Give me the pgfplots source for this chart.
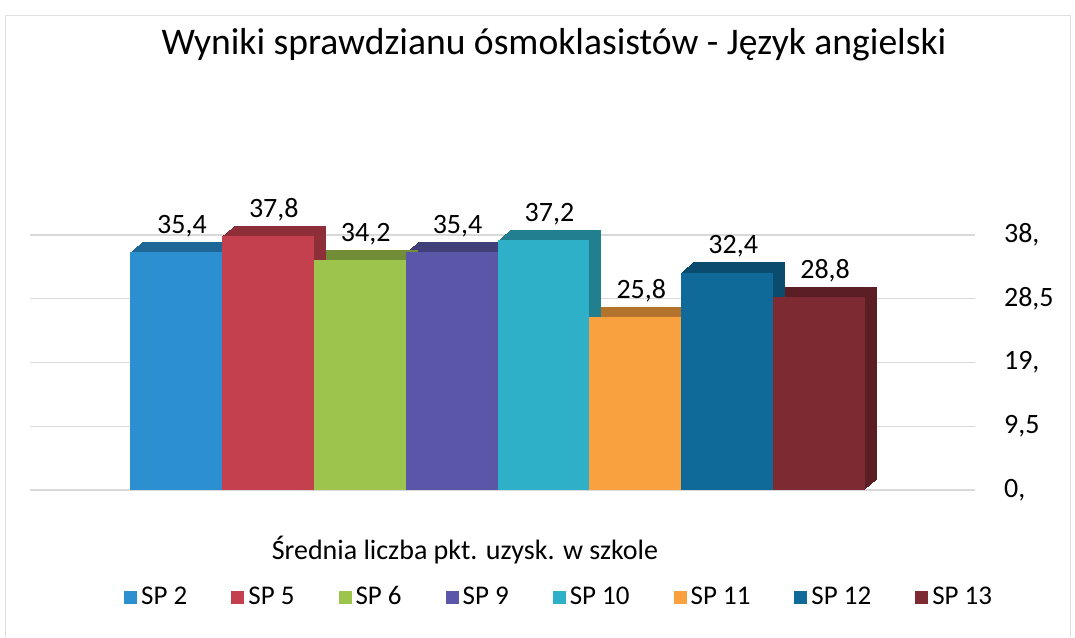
\documentclass[border=0pt]{standalone}
\usepackage{pgfplots}
\pgfplotsset{compat=1.18}
\usepackage{fontspec}
\setmainfont{Carlito}
\definecolor{cA}{HTML}{2B8FD0}
\definecolor{cB}{HTML}{C4404F}
\definecolor{cC}{HTML}{9DC44D}
\definecolor{cD}{HTML}{5A57A8}
\definecolor{cE}{HTML}{2EB0C8}
\definecolor{cF}{HTML}{F9A03F}
\definecolor{cG}{HTML}{0F6A99}
\definecolor{cH}{HTML}{7E2A33}
\newcommand\shadowbar[3]{\pgfplotsinvokeforeach{6,5.5,5,4.5,4,3.5,3,2.5,2,1.5,1,0.5}{\addplot[ybar, bar shift=0pt, bar width=1, fill=#2!72!black, draw=none, xshift=##1pt, yshift=##1*0.85pt, forget plot] coordinates {(#1,#3)};}}
\newcommand\frontbar[3]{\addplot[ybar, bar shift=0pt, bar width=1, fill=#2, draw=none, nodes near coords] coordinates {(#1,#3)};}
\begin{document}
\begin{tikzpicture}
\useasboundingbox (0,0) rectangle (537.5pt,318.5pt);
\draw[gray!25, line width=0.4pt] (2.5pt,0pt) -- (2.5pt,311pt) -- (535pt,311pt) -- (535pt,0pt);
\node[font=\fontsize{18.8}{22}\selectfont] at (277pt,296pt) {Wyniki sprawdzianu ósmoklasistów - Język angielski};
\begin{axis}[
  at={(15pt,73.5pt)}, anchor=south west,
  width=472.5pt, height=127.5pt, scale only axis,
  xmin=-0.588, xmax=9.697, ymin=0, ymax=38,
  axis line style={draw=none},
  major tick length=0pt,
  xtick=\empty,
  ytick={0,9.5,19,28.5,38},
  yticklabels={{0,},{9,5},{19,},{28,5},{38,}},
  yticklabel pos=right,
  yticklabel style={anchor=west, xshift=11pt, font=\fontsize{14}{16}\selectfont},
  ymajorgrids, grid style={gray!30, line width=0.6pt},
  clip=false,
  /pgf/number format/.cd, use comma, fixed, fixed zerofill, precision=1, assume math mode=true,
  /pgfplots/.cd,
  every node near coord/.append style={font=\fontsize{14}{16}\selectfont, xshift=3pt, yshift=4pt, black},
  legend columns=8,
  legend style={at={(rel axis cs:0.561,-0.42)}, anchor=center, draw=none, fill=none,
    font=\fontsize{13.5}{15}\selectfont,
    /tikz/every even column/.append style={column sep=20pt}},
  legend image code/.code={\fill[#1] (0pt,-3.2pt) rectangle (6.5pt,3.3pt);},
]
\shadowbar{8}{cH}{28.8}
\shadowbar{7}{cG}{32.4}
\shadowbar{6}{cF}{25.8}
\shadowbar{5}{cE}{37.2}
\shadowbar{4}{cD}{35.4}
\shadowbar{3}{cC}{34.2}
\shadowbar{2}{cB}{37.8}
\shadowbar{1}{cA}{35.4}
\frontbar{1}{cA}{35.4}
\frontbar{2}{cB}{37.8}
\frontbar{3}{cC}{34.2}
\frontbar{4}{cD}{35.4}
\frontbar{5}{cE}{37.2}
\frontbar{6}{cF}{25.8}
\frontbar{7}{cG}{32.4}
\frontbar{8}{cH}{28.8}
\legend{SP 2,SP 5,SP 6,SP 9,SP 10,SP 11,SP 12,SP 13}
\end{axis}
\node[font=\fontsize{14}{16}\selectfont] at (232.5pt,43.5pt) {Średnia liczba pkt. uzysk. w szkole};
\end{tikzpicture}
\end{document}
